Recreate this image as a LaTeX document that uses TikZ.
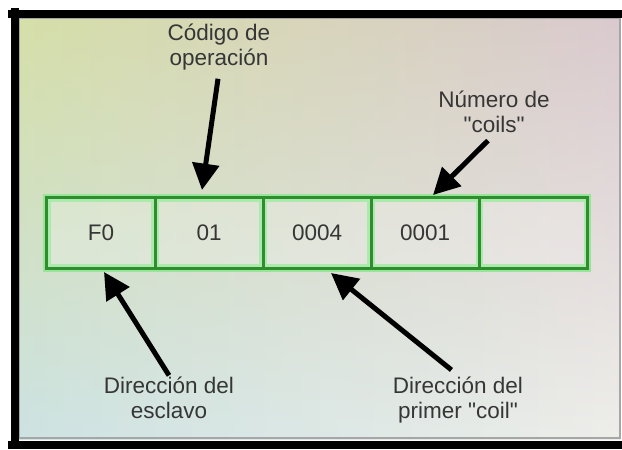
\documentclass[tikz,border=0pt]{standalone}
\usepackage{fontspec}
\setmainfont{Liberation Sans}
\usepackage{tikz}
\usetikzlibrary{positioning}
\usetikzlibrary{arrows.meta}
\usetikzlibrary{fadings}
\definecolor{bgtl}{HTML}{D6DFA8}
\definecolor{bgtr}{HTML}{DACACF}
\definecolor{bgbl}{HTML}{CDE3E3}
\definecolor{bgbr}{HTML}{EEEEEA}
\definecolor{cellgreen}{HTML}{2E8E2E}
\definecolor{glowgreen}{HTML}{98E498}
\definecolor{inkgrey}{HTML}{363636}
\pgfdeclarelayer{back}
\pgfsetlayers{back,main}
\tikzfading[name=fade up, top color=transparent!100, bottom color=transparent!0]
\tikzstyle{cell} = [draw=cellgreen, line width=0.075cm, fill=white, fill opacity=0.2,
    text opacity=1, text=inkgrey, minimum width=2.7cm, minimum height=1.75cm,
    outer sep=0pt, inner sep=0pt, font=\fontsize{16}{17.8}\selectfont]
\tikzstyle{glow} = [draw=glowgreen, line width=0.18cm]
\tikzstyle{notetext} = [align=center, text=inkgrey, inner sep=1pt,
    font=\fontsize{16}{17.8}\selectfont]
\tikzstyle{callout} = [->, line width=0.125cm]
\tikzstyle{frame} = [line width=0.2cm, black]

\begin{document}
\begin{tikzpicture}[x=0.025cm, y=-0.025cm, node distance=2.7cm,
    >={Triangle[length=0.66cm, width=0.66cm]}]
    % background with the black frame round it
    \useasboundingbox (0,0) rectangle (622,449);
    \begin{pgfonlayer}{back}
    \shade [left color=bgtl, right color=bgtr] (19,17) rectangle (620,439);
    \shade [left color=bgbl, right color=bgbr, path fading=fade up] (19,17) rectangle (620,439);
    \end{pgfonlayer}
    \draw [gray!70, line width=0.03cm] (19,18) rectangle (620,438);
    \draw [frame] (8,14) -- (622,14);
    \draw [frame] (15,8) -- (15,449);
    \draw [frame] (8,445) -- (622,445);
    % the fields of the message, left to right
    \node [cell] (slave) at (101,233) {F0};
    \node [cell, right of=slave] (func) {01};
    \node [cell, right of=func] (first) {0004};
    \node [cell, right of=first] (count) {0001};
    \node [cell, right of=count] (rest) {};
    % light green glow under the cell lines
    \begin{pgfonlayer}{back}
    \draw [glow] (slave.north west) rectangle (rest.south east);
    \foreach \c in {slave,func,first,count}
        \draw [glow] (\c.north east) -- (\c.south east);
    \end{pgfonlayer}
    % texts above and below
    \node [notetext] (funcnote) at (219,47) {Código de\\operación};
    \node [notetext] (countnote) at (494,112) {Número de\\\textquotedbl coils\textquotedbl};
    \node [notetext] (slavenote) at (169,398) {Dirección del\\esclavo};
    \node [notetext] (firstnote) at (458,400) {Dirección del\\primer \textquotedbl coil\textquotedbl};
    % where the arrows point
    \coordinate (functip) at (202,190);
    \coordinate (counttip) at (433,195);
    \coordinate (slavetip) at (104,272);
    \coordinate (firsttip) at (331,273);
    \draw [callout, shorten <=5pt] (funcnote.south) -- (functip);
    \draw [callout, shorten <=6pt] (countnote.south) -- (counttip);
    \draw [callout] (slavenote.north) -- (slavetip);
    \draw [callout, shorten <=6pt] (firstnote.north) -- (firsttip);
\end{tikzpicture}
\end{document}
